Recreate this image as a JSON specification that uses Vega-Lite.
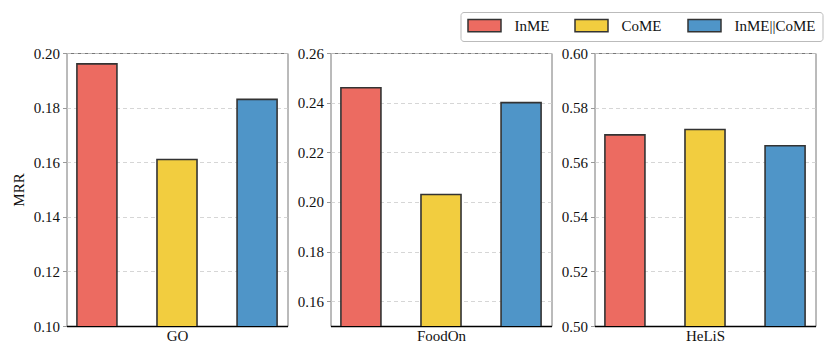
{
  "$schema": "https://vega.github.io/schema/vega-lite/v6.json",
  "padding": {"left": 10.5, "top": 11, "right": 5, "bottom": 3},
  "background": "white",
  "data": {"values": [
    {"dataset": "GO", "method": "InME", "value": 0.196},
    {"dataset": "GO", "method": "CoME", "value": 0.161},
    {"dataset": "GO", "method": "InME||CoME", "value": 0.183},
    {"dataset": "FoodOn", "method": "InME", "value": 0.246},
    {"dataset": "FoodOn", "method": "CoME", "value": 0.203},
    {"dataset": "FoodOn", "method": "InME||CoME", "value": 0.240},
    {"dataset": "HeLiS", "method": "InME", "value": 0.570},
    {"dataset": "HeLiS", "method": "CoME", "value": 0.572},
    {"dataset": "HeLiS", "method": "InME||CoME", "value": 0.566}
  ]},
  "spacing": 8,
  "hconcat": [
    {
      "width": 221, "height": 273,
      "transform": [{"filter": "datum.dataset === 'GO'"}],
      "mark": {"type": "bar", "clip": true, "stroke": "#333333", "strokeWidth": 1.6},
      "encoding": {
        "x": {"field": "method", "type": "nominal", "sort": ["InME", "CoME", "InME||CoME"],
              "scale": {"paddingInner": 0.5, "paddingOuter": 0.13},
              "axis": {"title": "GO", "labels": false, "ticks": false}},
        "y": {"field": "value", "type": "quantitative",
              "scale": {"domain": [0.10, 0.20], "zero": false, "nice": false},
              "axis": {"title": "MRR", "values": [0.10, 0.12, 0.14, 0.16, 0.18, 0.20], "format": ".2f"}},
        "fill": {"field": "method", "type": "nominal", "sort": ["InME", "CoME", "InME||CoME"],
                 "scale": {"domain": ["InME", "CoME", "InME||CoME"], "range": ["#EC6B61", "#F2CD3F", "#4F95C8"]},
                 "legend": {"title": null}}
      }
    },
    {
      "width": 221, "height": 273,
      "transform": [{"filter": "datum.dataset === 'FoodOn'"}],
      "mark": {"type": "bar", "clip": true, "stroke": "#333333", "strokeWidth": 1.6},
      "encoding": {
        "x": {"field": "method", "type": "nominal", "sort": ["InME", "CoME", "InME||CoME"],
              "scale": {"paddingInner": 0.5, "paddingOuter": 0.13},
              "axis": {"title": "FoodOn", "labels": false, "ticks": false}},
        "y": {"field": "value", "type": "quantitative",
              "scale": {"domain": [0.15, 0.26], "zero": false, "nice": false},
              "axis": {"title": null, "values": [0.16, 0.18, 0.20, 0.22, 0.24, 0.26], "format": ".2f"}},
        "fill": {"field": "method", "type": "nominal", "sort": ["InME", "CoME", "InME||CoME"],
                 "scale": {"domain": ["InME", "CoME", "InME||CoME"], "range": ["#EC6B61", "#F2CD3F", "#4F95C8"]},
                 "legend": {"title": null}}
      }
    },
    {
      "width": 221, "height": 273,
      "transform": [{"filter": "datum.dataset === 'HeLiS'"}],
      "mark": {"type": "bar", "clip": true, "stroke": "#333333", "strokeWidth": 1.6},
      "encoding": {
        "x": {"field": "method", "type": "nominal", "sort": ["InME", "CoME", "InME||CoME"],
              "scale": {"paddingInner": 0.5, "paddingOuter": 0.13},
              "axis": {"title": "HeLiS", "labels": false, "ticks": false}},
        "y": {"field": "value", "type": "quantitative",
              "scale": {"domain": [0.50, 0.60], "zero": false, "nice": false},
              "axis": {"title": null, "values": [0.50, 0.52, 0.54, 0.56, 0.58, 0.60], "format": ".2f"}},
        "fill": {"field": "method", "type": "nominal", "sort": ["InME", "CoME", "InME||CoME"],
                 "scale": {"domain": ["InME", "CoME", "InME||CoME"], "range": ["#EC6B61", "#F2CD3F", "#4F95C8"]},
                 "legend": {"title": null}}
      }
    }
  ],
  "config": {
    "font": "Liberation Serif",
    "view": {"stroke": "#777777", "strokeWidth": 1},
    "axis": {
      "labelFont": "Liberation Serif", "titleFont": "Liberation Serif",
      "labelFontSize": 15, "titleFontSize": 15, "labelColor": "#111111", "titleColor": "#111111",
      "titleFontWeight": "normal", "grid": true, "gridColor": "#cccccc", "gridDash": [4, 3], "gridWidth": 0.8
    },
    "axisY": {"domain": false, "tickColor": "#999999", "tickSize": 4, "labelPadding": 3, "titlePadding": 7},
    "axisX": {"domain": true, "domainColor": "#000000", "domainWidth": 1.3, "grid": false, "titlePadding": 2},
    "legend": {
      "orient": "none", "legendX": 394, "legendY": -41, "direction": "horizontal",
      "labelFont": "Liberation Serif", "labelFontSize": 15, "labelColor": "#111111",
      "symbolType": "M-1,-1.04L4.5,-1.04L4.5,1.04L-1,1.04Z", "symbolSize": 144,
      "symbolStrokeColor": "#333333", "symbolStrokeWidth": 1.5, "symbolOpacity": 1,
      "labelOffset": 33, "columnPadding": 22, "padding": 6,
      "strokeColor": "#bbbbbb", "fillColor": "white", "cornerRadius": 3
    }
  }
}
